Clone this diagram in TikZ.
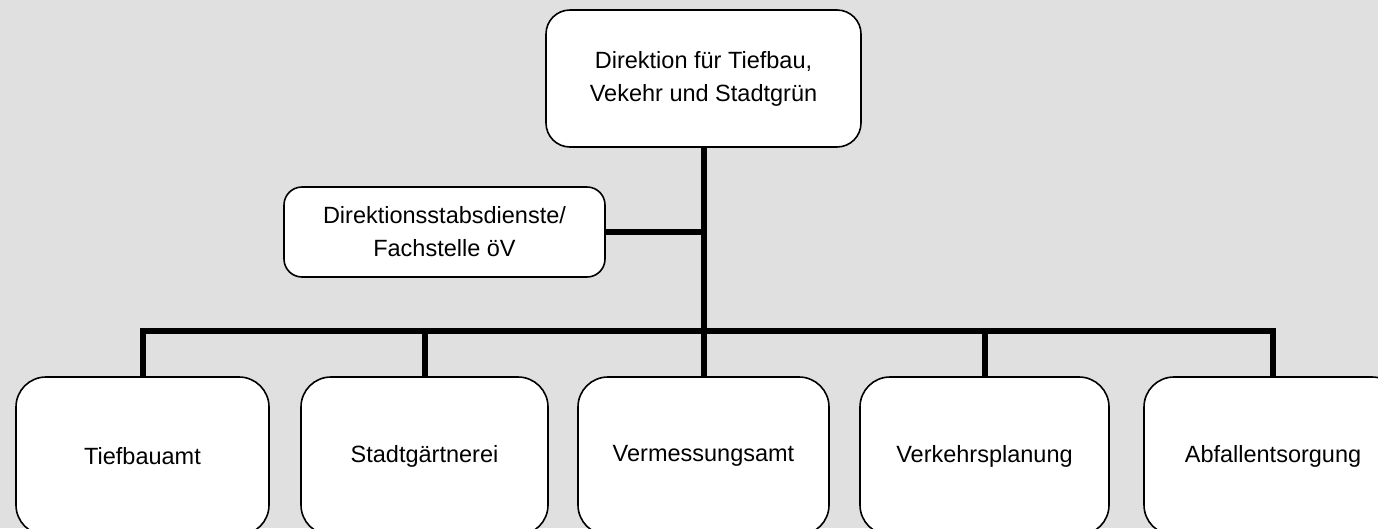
\documentclass[tikz,border=0pt]{standalone}
\usepackage{fontspec}
\setmainfont{Liberation Sans}
\usetikzlibrary{positioning}
\definecolor{panelgray}{RGB}{224,224,224}
\tikzset{
  orgline/.style={line width=6pt, black},
  headbox/.style={draw, line width=1.6pt, rounded corners=24pt, fill=white, minimum width=315pt, minimum height=137pt, align=center, inner sep=0pt},
  staffbox/.style={draw, line width=1.6pt, rounded corners=18pt, fill=white, minimum width=321pt, minimum height=90pt, align=center, inner sep=0pt},
  unitbox/.style={draw, line width=1.6pt, rounded corners=30pt, fill=white, minimum height=158pt, align=center, inner sep=0pt}
}

\begin{document}
\begin{tikzpicture}[x=1pt, y=-1pt, every node/.style={font=\fontsize{23.5}{33}\selectfont}]
      \fill[panelgray] (0,0) rectangle (1378,528);
      \useasboundingbox (0,0) rectangle (1378,528);
      \clip (0,0) rectangle (1378,528);
      % top and staff
      \node[headbox] (dir) at (703.5,78.5) {Direktion für Tiefbau,\\Vekehr und Stadtgrün};
      \node[staffbox] (staff) at (444.5,232) {Direktionsstabsdienste/\\Fachstelle öV};
      % offices
      \node[unitbox, minimum width=253pt] (tief) at (142.5,456) {Tiefbauamt};
      \node[unitbox, minimum width=247pt] (stadt) at (424.5,456) {Stadtgärtnerei};
      \node[unitbox, minimum width=251pt] (verm) at (703.5,456) {Vermessungsamt};
      \node[unitbox, minimum width=249pt] (verk) at (984.5,456) {Verkehrsplanung};
      \node[unitbox, minimum width=258pt] (abf) at (1273,456) {Abfallentsorgung};
      \coordinate (bus) at (703.5,331);
      \draw[orgline] (dir.south) -- (verm.north);
      \draw[orgline] (staff.east) -- (staff.east -| dir.south);
      \draw[orgline] (tief.north) |- (bus) -| (abf.north);
      \draw[orgline] (stadt.north) -- (stadt.north |- bus);
      \draw[orgline] (verk.north) -- (verk.north |- bus);
    \end{tikzpicture}
\end{document}
